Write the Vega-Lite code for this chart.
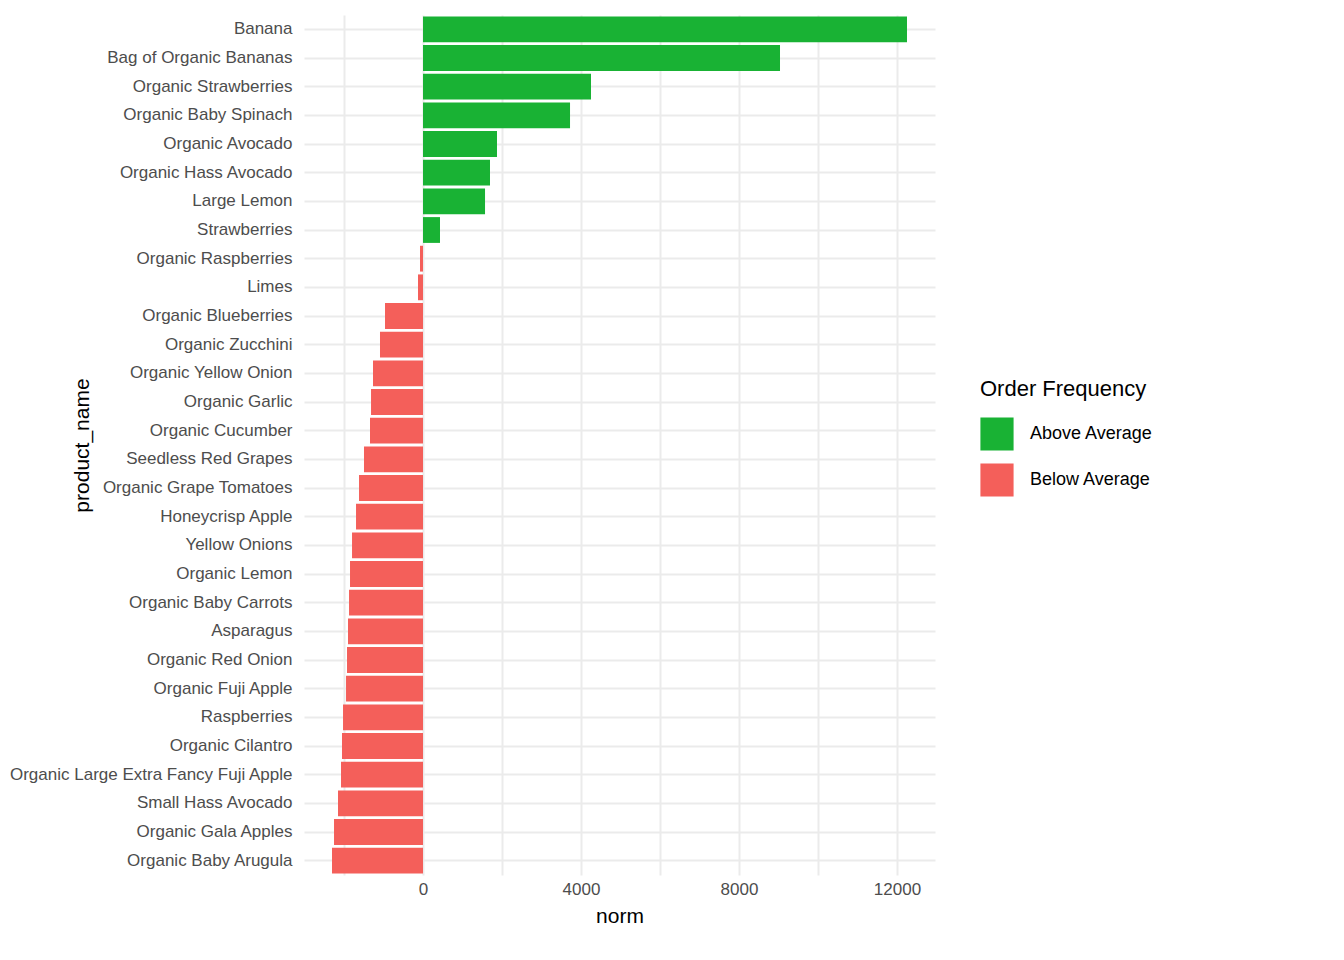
{
"$schema":"https://vega.github.io/schema/vega-lite/v6.json",
"width":631,"height":860,
"padding":{"top":15,"left":8,"right":10,"bottom":10},
"background":"white",
"config":{"view":{"stroke":null},"font":"Liberation Sans"},
"data":{"values":[
{"product_name":"Banana","norm":12253,"freq":"Above Average"},
{"product_name":"Bag of Organic Bananas","norm":9038,"freq":"Above Average"},
{"product_name":"Organic Strawberries","norm":4253,"freq":"Above Average"},
{"product_name":"Organic Baby Spinach","norm":3722,"freq":"Above Average"},
{"product_name":"Organic Avocado","norm":1873,"freq":"Above Average"},
{"product_name":"Organic Hass Avocado","norm":1696,"freq":"Above Average"},
{"product_name":"Large Lemon","norm":1570,"freq":"Above Average"},
{"product_name":"Strawberries","norm":430,"freq":"Above Average"},
{"product_name":"Organic Raspberries","norm":-76,"freq":"Below Average"},
{"product_name":"Limes","norm":-127,"freq":"Below Average"},
{"product_name":"Organic Blueberries","norm":-962,"freq":"Below Average"},
{"product_name":"Organic Zucchini","norm":-1089,"freq":"Below Average"},
{"product_name":"Organic Yellow Onion","norm":-1266,"freq":"Below Average"},
{"product_name":"Organic Garlic","norm":-1316,"freq":"Below Average"},
{"product_name":"Organic Cucumber","norm":-1342,"freq":"Below Average"},
{"product_name":"Seedless Red Grapes","norm":-1494,"freq":"Below Average"},
{"product_name":"Organic Grape Tomatoes","norm":-1620,"freq":"Below Average"},
{"product_name":"Honeycrisp Apple","norm":-1696,"freq":"Below Average"},
{"product_name":"Yellow Onions","norm":-1797,"freq":"Below Average"},
{"product_name":"Organic Lemon","norm":-1848,"freq":"Below Average"},
{"product_name":"Organic Baby Carrots","norm":-1873,"freq":"Below Average"},
{"product_name":"Asparagus","norm":-1899,"freq":"Below Average"},
{"product_name":"Organic Red Onion","norm":-1924,"freq":"Below Average"},
{"product_name":"Organic Fuji Apple","norm":-1949,"freq":"Below Average"},
{"product_name":"Raspberries","norm":-2025,"freq":"Below Average"},
{"product_name":"Organic Cilantro","norm":-2051,"freq":"Below Average"},
{"product_name":"Organic Large Extra Fancy Fuji Apple","norm":-2076,"freq":"Below Average"},
{"product_name":"Small Hass Avocado","norm":-2152,"freq":"Below Average"},
{"product_name":"Organic Gala Apples","norm":-2253,"freq":"Below Average"},
{"product_name":"Organic Baby Arugula","norm":-2304,"freq":"Below Average"}
]},
"mark":{"type":"bar"},
"encoding":{
"y":{"field":"product_name","type":"nominal","sort":{"field":"norm","order":"descending"},
 "scale":{"paddingInner":0.1,"paddingOuter":0.05},
 "axis":{"title":"product_name","titleFontSize":21,"titleFontWeight":"normal","titleColor":"black","labelFontSize":17,"labelLimit":500,"labelColor":"#4d4d4d","ticks":false,"domain":false,"labelPadding":12,"gridColor":"#ebebeb","gridWidth":2,"grid":true,"titlePadding":12}},
"x":{"field":"norm","type":"quantitative","scale":{"domain":[-3013,12962],"nice":false,"zero":false},
 "axis":{"title":"norm","titleFontSize":21,"titleFontWeight":"normal","titleColor":"black","labelFontSize":17,"labelColor":"#4d4d4d","ticks":false,"domain":false,"values":[-2000,0,2000,4000,6000,8000,10000,12000],"labelExpr":"datum.value % 4000 == 0 ? format(datum.value,'d') : ''","gridColor":"#ebebeb","gridWidth":2,"labelPadding":6,"titlePadding":8}},
"color":{"field":"freq","type":"nominal","title":"Order Frequency",
 "scale":{"domain":["Above Average","Below Average"],"range":["#19B234","#F45F5A"]},
 "legend":{"titleFontSize":22,"titleFontWeight":"normal","titleColor":"black","labelFontSize":18,"labelColor":"black","symbolType":"square","symbolSize":1100,"symbolStrokeWidth":0,"rowPadding":12,"labelOffset":16,"titlePadding":16,"orient":"none","legendX":676,"legendY":364}}
}
}
